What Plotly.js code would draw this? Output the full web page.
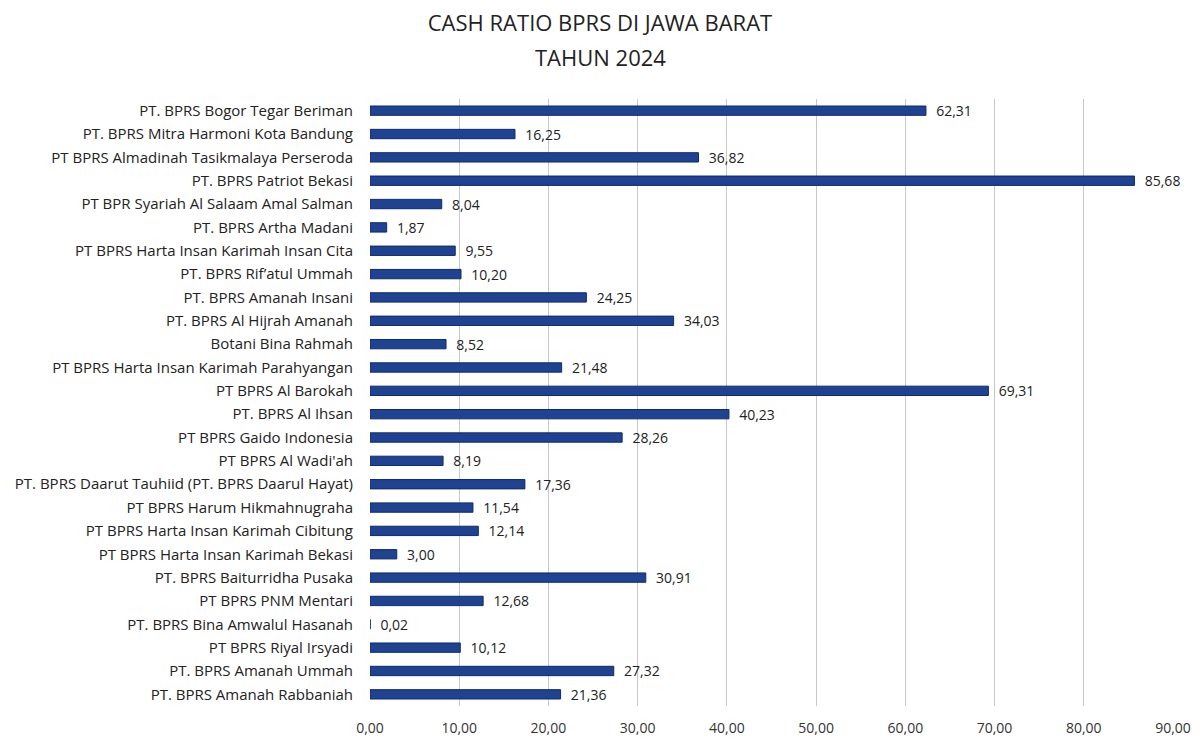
<!DOCTYPE html>
<html>
<head>
<meta charset="utf-8">
<script src="https://cdn.plot.ly/plotly-3.0.1.min.js"></script>
<style>html,body{margin:0;padding:0;background:#fff}#chart{width:1200px;height:740px}</style>
</head>
<body>
<div id="chart"></div>
<script>
const categories = [
  "PT. BPRS Bogor Tegar Beriman",
  "PT. BPRS Mitra Harmoni Kota Bandung",
  "PT BPRS Almadinah Tasikmalaya Perseroda",
  "PT. BPRS Patriot Bekasi",
  "PT BPR Syariah Al Salaam Amal Salman",
  "PT. BPRS Artha Madani",
  "PT BPRS Harta Insan Karimah Insan Cita",
  "PT. BPRS Rif\u2019atul Ummah",
  "PT. BPRS Amanah Insani",
  "PT. BPRS Al Hijrah Amanah",
  "Botani Bina Rahmah",
  "PT BPRS Harta Insan Karimah Parahyangan",
  "PT BPRS Al Barokah",
  "PT. BPRS Al Ihsan",
  "PT BPRS Gaido Indonesia",
  "PT BPRS Al Wadi'ah",
  "PT. BPRS Daarut Tauhiid (PT. BPRS Daarul Hayat)",
  "PT BPRS Harum Hikmahnugraha",
  "PT BPRS Harta Insan Karimah Cibitung",
  "PT BPRS Harta Insan Karimah Bekasi",
  "PT. BPRS Baiturridha Pusaka",
  "PT BPRS PNM Mentari",
  "PT. BPRS Bina Amwalul Hasanah",
  "PT BPRS Riyal Irsyadi",
  "PT. BPRS Amanah Ummah",
  "PT. BPRS Amanah Rabbaniah"
];
const cashRatio = [62.31, 16.25, 36.82, 85.68, 8.04, 1.87, 9.55, 10.20, 24.25, 34.03, 8.52, 21.48, 69.31, 40.23, 28.26, 8.19, 17.36, 11.54, 12.14, 3.00, 30.91, 12.68, 0.02, 10.12, 27.32, 21.36];
const xTicks = [0, 10, 20, 30, 40, 50, 60, 70, 80, 90];
const titleLine1 = "CASH RATIO BPRS DI JAWA BARAT";
const titleLine2 = "TAHUN 2024";

const labels = cashRatio.map(v => v.toFixed(2).replace('.', ','));
const font = "Open Sans, Liberation Sans, Arial, sans-serif";

Plotly.newPlot('chart', [{
  type: 'bar',
  orientation: 'h',
  y: categories,
  x: cashRatio,
  text: labels,
  texttemplate: '\u00a0\u00a0%{text}',
  textposition: 'outside',
  constraintext: 'none',
  cliponaxis: false,
  textfont: {family: font, size: 14, color: '#222'},
  marker: {color: '#1f4291', line: {color: '#0f2a6e', width: 1}},
  hoverinfo: 'x+y'
}], {
  width: 1200, height: 740,
  separators: ',.',
  margin: {l: 370, r: 27, t: 99, b: 34},
  bargap: 0.6,
  paper_bgcolor: '#fff', plot_bgcolor: '#fff',
  title: {text: titleLine1, x: 600 / 1200, xanchor: 'center', xref: 'container',
          y: 1 - 23 / 740, yref: 'container', yanchor: 'middle',
          font: {family: font, size: 22, color: '#222'}},
  annotations: [{text: titleLine2, xref: 'paper', yref: 'paper', x: (600 - 370) / 803, y: 1,
                 xanchor: 'center', yanchor: 'middle', showarrow: false,
                 yshift: 99 - 57, font: {family: font, size: 22, color: '#222'}}],
  xaxis: {range: [0, 90], tickvals: xTicks, tickformat: '.2f', showgrid: true,
          gridcolor: '#c8c8c8', gridwidth: 1, zeroline: false, showline: false,
          tickfont: {family: font, size: 14, color: '#333'}, ticks: '', ticklabelstandoff: 12},
  yaxis: {autorange: 'reversed', showgrid: false, zeroline: false, showline: false,
          ticks: '', ticklabelstandoff: 16,
          tickfont: {family: font, size: 15, color: '#222'}},
  showlegend: false
}, {displayModeBar: false});
</script>
</body>
</html>
